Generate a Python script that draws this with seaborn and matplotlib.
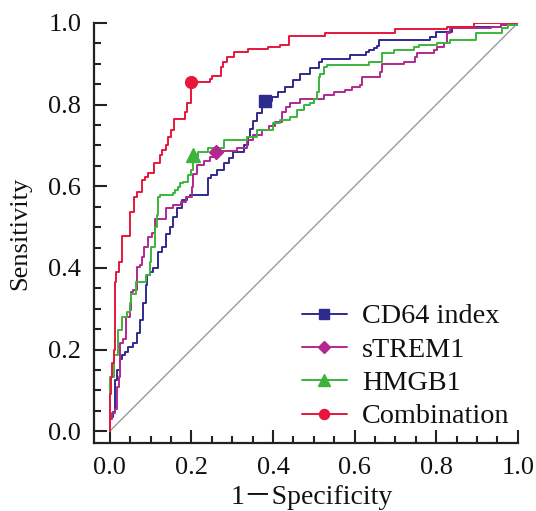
import numpy as np
import matplotlib
matplotlib.use("Agg")
import matplotlib.pyplot as plt
from matplotlib.lines import Line2D
from matplotlib.ticker import MultipleLocator, FormatStrFormatter
import seaborn as sns

sns.set_theme(style='white')
plt.rcParams['font.family'] = ['Liberation Serif', 'Noto Sans CJK SC']

# ROC curves: fpr where sensitivity jumps, sensitivity after the jump
cd64_fpr = [0, 0, 0.008, 0.012, 0.018, 0.025, 0.029, 0.037, 0.045, 0.057, 0.066, 0.074, 0.082, 0.090,
            0.092, 0.098, 0.105, 0.119, 0.127, 0.139, 0.147, 0.156, 0.165, 0.178, 0.190, 0.197, 0.242,
            0.249, 0.262, 0.280, 0.292, 0.303, 0.328, 0.338, 0.345, 0.352, 0.360, 0.372, 0.379, 0.397,
            0.412, 0.430, 0.450, 0.467, 0.490, 0.512, 0.520, 0.590, 0.627, 0.635, 0.647, 0.655, 0.659,
            0.786, 0.799, 0.840, 0.960, 1.0]
cd64_tpr = [0, 0.035, 0.047, 0.125, 0.150, 0.178, 0.187, 0.195, 0.207, 0.215, 0.240, 0.272, 0.313, 0.358,
            0.382, 0.390, 0.400, 0.440, 0.452, 0.484, 0.500, 0.525, 0.547, 0.566, 0.574, 0.578, 0.620,
            0.627, 0.640, 0.656, 0.670, 0.685, 0.701, 0.720, 0.740, 0.760, 0.780, 0.795, 0.809, 0.819,
            0.830, 0.844, 0.860, 0.876, 0.890, 0.905, 0.913, 0.921, 0.928, 0.934, 0.938, 0.944, 0.958,
            0.965, 0.979, 0.990, 0.995, 1.0]

strem_fpr = [0, 0, 0.005, 0.012, 0.018, 0.023, 0.026, 0.033, 0.041, 0.049, 0.053, 0.057, 0.066, 0.074,
             0.078, 0.084, 0.094, 0.104, 0.112, 0.139, 0.155, 0.174, 0.188, 0.201, 0.205, 0.213, 0.232,
             0.245, 0.255, 0.262, 0.311, 0.336, 0.350, 0.373, 0.390, 0.405, 0.422, 0.432, 0.442, 0.467,
             0.524, 0.549, 0.577, 0.594, 0.614, 0.618, 0.663, 0.667, 0.721, 0.749, 0.753, 0.794, 0.803,
             0.819, 0.827, 0.835, 0.934, 0.960, 1.0]
strem_tpr = [0, 0.030, 0.045, 0.055, 0.109, 0.133, 0.215, 0.227, 0.280, 0.297, 0.341, 0.345, 0.403, 0.407,
             0.427, 0.452, 0.476, 0.485, 0.521, 0.546, 0.555, 0.562, 0.574, 0.599, 0.630, 0.652, 0.662,
             0.672, 0.678, 0.686, 0.693, 0.713, 0.725, 0.738, 0.748, 0.758, 0.783, 0.793, 0.803, 0.815,
             0.824, 0.830, 0.836, 0.842, 0.848, 0.868, 0.880, 0.900, 0.904, 0.917, 0.926, 0.934, 0.942,
             0.950, 0.975, 0.987, 0.991, 0.996, 1.0]

hmgb_fpr = [0, 0, 0.010, 0.020, 0.030, 0.043, 0.049, 0.053, 0.065, 0.090, 0.098, 0.102, 0.111, 0.115,
            0.119, 0.123, 0.156, 0.160, 0.168, 0.172, 0.180, 0.192, 0.199, 0.205, 0.209, 0.217, 0.242,
            0.279, 0.336, 0.360, 0.401, 0.418, 0.442, 0.459, 0.475, 0.490, 0.500, 0.508, 0.512, 0.516,
            0.524, 0.532, 0.635, 0.667, 0.696, 0.745, 0.757, 0.803, 0.835, 0.897, 0.962, 0.975, 1.0]
hmgb_tpr = [0, 0.133, 0.186, 0.248, 0.280, 0.292, 0.313, 0.337, 0.366, 0.382, 0.415, 0.452, 0.500, 0.529,
            0.574, 0.578, 0.583, 0.591, 0.599, 0.607, 0.611, 0.627, 0.640, 0.660, 0.672, 0.685, 0.693,
            0.713, 0.721, 0.738, 0.754, 0.762, 0.770, 0.787, 0.799, 0.803, 0.815, 0.830, 0.868, 0.876,
            0.893, 0.897, 0.905, 0.926, 0.934, 0.942, 0.946, 0.950, 0.958, 0.975, 0.987, 0.995, 1.0]

comb_fpr = [0, 0, 0.003, 0.006, 0.010, 0.014, 0.016, 0.023, 0.030, 0.050, 0.060, 0.066, 0.078, 0.086,
            0.094, 0.109, 0.123, 0.127, 0.139, 0.142, 0.150, 0.158, 0.184, 0.189, 0.199, 0.246, 0.251,
            0.273, 0.277, 0.287, 0.305, 0.338, 0.389, 0.418, 0.440, 0.528, 0.700, 0.827, 0.893, 1.0]
comb_tpr = [0, 0.090, 0.133, 0.167, 0.200, 0.366, 0.390, 0.415, 0.478, 0.536, 0.574, 0.587, 0.615, 0.623,
            0.632, 0.656, 0.676, 0.689, 0.701, 0.721, 0.738, 0.766, 0.783, 0.805, 0.856, 0.864, 0.870,
            0.893, 0.905, 0.917, 0.930, 0.936, 0.940, 0.946, 0.968, 0.975, 0.985, 0.991, 1.0, 1.0]

# cut-off points
labels = ["CD64 index", "sTREM1", "HMGB1", "Combination"]
cut_fpr = [0.381, 0.260, 0.205, 0.200]
cut_tpr = [0.809, 0.685, 0.676, 0.856]

colors = ["#2e2b8f", "#b3288e", "#3cb43c", "#e6163c"]
markers = ["s", "D", "^", "o"]
msizes = [8, 7, 9.5, 8.5]
curves = [(cd64_fpr, cd64_tpr), (strem_fpr, strem_tpr), (hmgb_fpr, hmgb_tpr), (comb_fpr, comb_tpr)]

fig = plt.figure(figsize=(5.36, 5.11), dpi=100)
ax = fig.add_axes([0.175, 0.133, 0.791, 0.822])

ax.plot([0, 1], [0, 1], color="#9a9a9a", lw=1.0, zorder=1)

handles = []
for (fx, ty), lab, c, m, ms, px, py in zip(curves, labels, colors, markers, msizes, cut_fpr, cut_tpr):
    sns.lineplot(x=fx, y=ty, drawstyle='steps-post', estimator=None, sort=False,
                 color=c, lw=1.4, ax=ax, zorder=3)
    ax.plot([px], [py], marker=m, color=c, ms=ms, ls='none', zorder=4)
    handles.append(Line2D([], [], color=c, lw=1.4, marker=m, ms=ms * 0.85))

ax.set_xlim(-0.039, 1.0)
ax.set_ylim(-0.029, 1.0)
ax.xaxis.set_major_locator(MultipleLocator(0.2))
ax.xaxis.set_minor_locator(MultipleLocator(0.05))
ax.yaxis.set_major_locator(MultipleLocator(0.2))
ax.yaxis.set_minor_locator(MultipleLocator(0.05))
ax.xaxis.set_major_formatter(FormatStrFormatter('%.1f'))
ax.yaxis.set_major_formatter(FormatStrFormatter('%.1f'))
ax.tick_params(which='both', direction='in', width=1.5, color='#222222', labelsize=19,
               bottom=True, left=True, labelcolor='#111111')
ax.tick_params(which='major', length=9.5)
ax.tick_params(which='minor', length=5)
ax.tick_params(axis='y', which='major', pad=9)
ax.tick_params(axis='x', which='major', pad=10)

sns.despine(ax=ax)
for s in ['left', 'bottom']:
    ax.spines[s].set_linewidth(1.6)
    ax.spines[s].set_color('#222222')

ax.set_xlabel("1－Specificity", fontsize=20, color='#111111')
ax.set_ylabel("Sensitivity", fontsize=19, labelpad=12, color='#111111')
ax.xaxis.set_label_coords(0.515, -0.1, transform=ax.transAxes)

ax.legend(handles, labels, loc='center left', bbox_to_anchor=(0.49, 0.182), frameon=False,
          fontsize=20.3, borderpad=0, borderaxespad=0, handlelength=1.6, handletextpad=0.55,
          labelspacing=0.27, labelcolor='#111111')

fig.savefig("out.png", dpi=100)
